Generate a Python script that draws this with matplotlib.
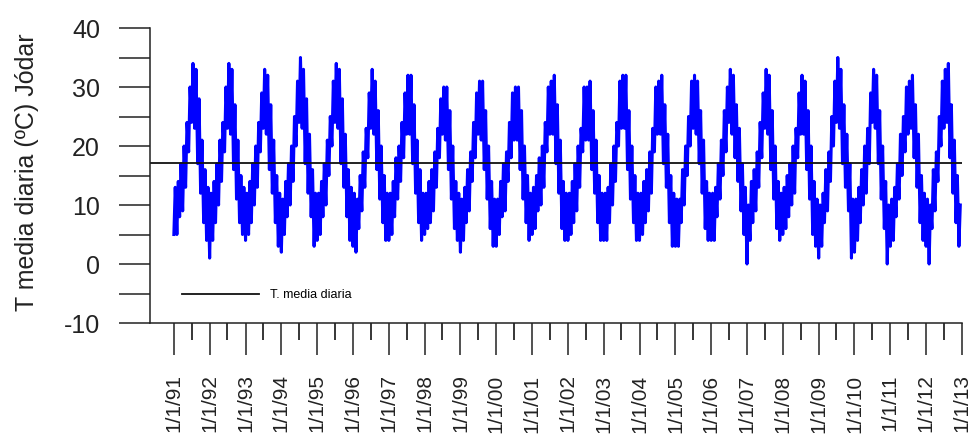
import datetime as dt

import matplotlib
matplotlib.use('Agg')
import matplotlib.dates as mdates
import matplotlib.pyplot as plt
import numpy as np
import pandas as pd

# T media diaria, dos lecturas por mes (dia 1 y dia 15)
t_1991 = [5, 13, 5, 14, 8, 17, 9, 20, 13, 24, 19, 30, 24, 34, 23, 33, 17, 28, 12, 21, 7, 16, 4, 13]
t_1992 = [1, 12, 4, 14, 7, 17, 10, 21, 14, 24, 19, 30, 23, 34, 22, 33, 16, 27, 11, 21, 7, 15, 5, 13]
t_1993 = [4, 12, 5, 14, 7, 17, 10, 20, 13, 24, 19, 29, 23, 33, 22, 32, 16, 27, 12, 21, 7, 15, 3, 12]
t_1994 = [2, 11, 5, 14, 8, 17, 10, 20, 14, 25, 20, 31, 24, 35, 23, 33, 17, 28, 12, 22, 8, 16, 3, 12]
t_1995 = [4, 12, 5, 14, 8, 17, 10, 21, 15, 25, 20, 31, 24, 34, 23, 33, 17, 28, 13, 22, 8, 16, 4, 13]
t_1996 = [3, 12, 2, 11, 6, 15, 9, 19, 13, 23, 18, 29, 23, 33, 22, 31, 16, 26, 11, 20, 7, 15, 4, 12]
t_1997 = [4, 12, 5, 14, 8, 18, 11, 20, 14, 24, 18, 29, 22, 32, 22, 32, 17, 27, 12, 21, 7, 16, 4, 12]
t_1998 = [5, 12, 6, 14, 7, 16, 9, 19, 13, 23, 18, 28, 22, 30, 21, 30, 16, 26, 11, 20, 6, 14, 4, 12]
t_1999 = [2, 11, 4, 13, 7, 16, 9, 19, 14, 24, 18, 29, 22, 31, 21, 31, 16, 26, 11, 20, 6, 14, 3, 11]
t_2000 = [3, 11, 5, 14, 8, 17, 9, 19, 14, 24, 18, 29, 21, 30, 21, 30, 16, 26, 11, 20, 7, 15, 4, 12]
t_2001 = [5, 13, 6, 15, 9, 18, 10, 20, 13, 24, 19, 30, 22, 31, 22, 32, 17, 27, 12, 21, 6, 14, 4, 12]
t_2002 = [4, 12, 5, 14, 7, 17, 9, 20, 13, 23, 19, 30, 21, 30, 21, 31, 16, 26, 12, 21, 7, 15, 4, 12]
t_2003 = [4, 12, 4, 13, 7, 17, 10, 20, 14, 24, 20, 31, 23, 32, 23, 32, 16, 26, 11, 20, 7, 15, 4, 12]
t_2004 = [4, 12, 5, 14, 7, 16, 9, 19, 12, 23, 19, 30, 22, 31, 22, 32, 17, 27, 13, 22, 7, 15, 3, 12]
t_2005 = [3, 11, 3, 11, 7, 16, 10, 20, 15, 25, 20, 31, 23, 32, 22, 31, 17, 26, 12, 21, 6, 14, 4, 12]
t_2006 = [4, 12, 4, 13, 8, 17, 11, 21, 15, 26, 19, 30, 24, 33, 22, 32, 18, 27, 14, 23, 9, 17, 5, 13]
t_2007 = [0, 10, 4, 14, 7, 16, 9, 19, 13, 24, 18, 29, 23, 33, 22, 32, 16, 26, 11, 20, 6, 14, 4, 12]
t_2008 = [5, 13, 6, 15, 8, 17, 10, 20, 12, 23, 18, 29, 22, 32, 22, 31, 16, 26, 11, 20, 5, 14, 3, 11]
t_2009 = [1, 10, 3, 12, 7, 16, 9, 19, 14, 25, 20, 31, 24, 35, 23, 33, 17, 27, 13, 22, 9, 17, 1, 11]
t_2010 = [2, 11, 4, 13, 7, 16, 10, 20, 12, 23, 17, 29, 24, 33, 23, 32, 17, 26, 11, 20, 6, 14, 0, 10]
t_2011 = [3, 11, 4, 13, 8, 17, 11, 22, 15, 25, 19, 30, 22, 31, 23, 32, 18, 27, 13, 22, 7, 15, 4, 12]
t_2012 = [3, 11, 0, 10, 6, 16, 9, 19, 14, 25, 20, 31, 23, 33, 24, 34, 18, 27, 12, 21, 7, 15, 3, 10]

years = list(range(1991, 2013))
temps = (t_1991 + t_1992 + t_1993 + t_1994 + t_1995 + t_1996 + t_1997 + t_1998
         + t_1999 + t_2000 + t_2001 + t_2002 + t_2003 + t_2004 + t_2005 + t_2006
         + t_2007 + t_2008 + t_2009 + t_2010 + t_2011 + t_2012)
dates = pd.date_range('1991-01-01', '2012-12-31', freq='SMS')

t_media = 17.2  # linea horizontal
y_ticks = [-10, 0, 10, 20, 30, 40]

plt.rcParams['font.family'] = ['Liberation Sans', 'DejaVu Sans']
plt.rcParams['axes.unicode_minus'] = False
plt.rcParams['path.simplify'] = False  # keep every zigzag of the daily series


def fmt_fecha(x, pos=None):
    d = mdates.num2date(x)
    return f'{d.month}/{d.day}/{d:%y}'


fig = plt.figure(figsize=(9.71, 4.48), dpi=100)
fig.subplots_adjust(left=0.1545, right=0.9907, bottom=0.279, top=0.9375)
ax = fig.add_subplot(1, 1, 1)

ax.plot(mdates.date2num(dates.to_pydatetime()), temps, color='#0000ff', lw=2.2,
        solid_joinstyle='round')
ax.axhline(t_media, color='#111111', lw=1.3, label='T. media diaria')

ax.set_ylim(-10, 40)
ax.set_xlim(dt.datetime(1990, 5, 3), dt.datetime(2013, 1, 1))

ax.set_yticks(y_ticks)
ax.set_yticks([-5, 5, 15, 25, 35], minor=True)
ax.tick_params(axis='y', which='both', length=22, width=1.1, pad=14,
               labelsize=18, colors='#222222')

ax.xaxis.set_major_locator(mdates.YearLocator(1, month=1, day=1))
ax.xaxis.set_major_formatter(plt.FuncFormatter(fmt_fecha))
ax.set_xticks([dt.datetime(y, 7, 1) for y in years], minor=True)
ax.tick_params(axis='x', which='major', length=23, width=1.1, pad=14,
               labelsize=15, colors='#222222', labelrotation=90)
ax.tick_params(axis='x', which='minor', length=12, width=1.1)

for s in ['top', 'right']:
    ax.spines[s].set_visible(False)
for s in ['left', 'bottom']:
    ax.spines[s].set_linewidth(1.1)
    ax.spines[s].set_color('#222222')

ax.set_ylabel('T media diaria (ºC) Jódar', fontsize=18, color='#222222')
ax.yaxis.set_label_coords(-0.137, 0.51)

ax.legend(loc='center left', bbox_to_anchor=(0.039, 0.095), frameon=False,
          fontsize=9, handlelength=6.2, handletextpad=0.9,
          borderpad=0, borderaxespad=0)

fig.savefig('out.png', dpi=100)
